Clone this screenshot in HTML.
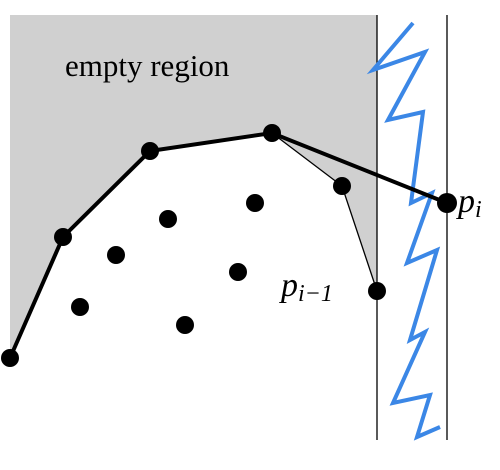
<!DOCTYPE html>
<html><head><meta charset="utf-8"><style>
html,body{margin:0;padding:0;background:#fff;}
svg{display:block;}
text{font-family:"Liberation Serif",serif;fill:#000;}
</style></head><body>
<svg width="500" height="470" viewBox="0 0 500 470">
<polygon points="10,15 377,15 377,291 342,186 272,133 150,151 63,237 10,358" fill="#d0d0d0"/>
<text x="65" y="76" font-size="31">empty region</text>
<line x1="377" y1="15" x2="377" y2="440" stroke="#000" stroke-width="1.3"/>
<line x1="447" y1="15" x2="447" y2="440" stroke="#000" stroke-width="1.3"/>
<polyline points="413,23 373,70 425,52 388,120 423,112 411,203 432,193 407,263 437,250 410,340 425,332 393,403 430,395 417,437 440,427" fill="none" stroke="#3b87e6" stroke-width="4" stroke-linejoin="miter"/>
<polyline points="272,133 342,186 377,291" fill="none" stroke="#000" stroke-width="1.3"/>
<polyline points="10,358 63,237 150,151 272,133 447,203" fill="none" stroke="#000" stroke-width="4"/>
<g fill="#000">
<circle cx="10" cy="358" r="9"/><circle cx="63" cy="237" r="9"/><circle cx="150" cy="151" r="9"/><circle cx="272" cy="133" r="9"/><circle cx="342" cy="186" r="9"/><circle cx="377" cy="291" r="9"/><circle cx="447" cy="203" r="10"/>
<circle cx="168" cy="219" r="9"/><circle cx="255" cy="203" r="9"/><circle cx="116" cy="255" r="9"/><circle cx="238" cy="272" r="9"/><circle cx="80" cy="307" r="9"/><circle cx="185" cy="325" r="9"/>
</g>
<text x="458" y="212" font-size="34" font-style="italic">p<tspan font-size="24" dy="5">i</tspan></text>
<text x="281" y="296" font-size="34" font-style="italic">p<tspan font-size="24" dy="5">i−1</tspan></text>
</svg>
</body></html>
